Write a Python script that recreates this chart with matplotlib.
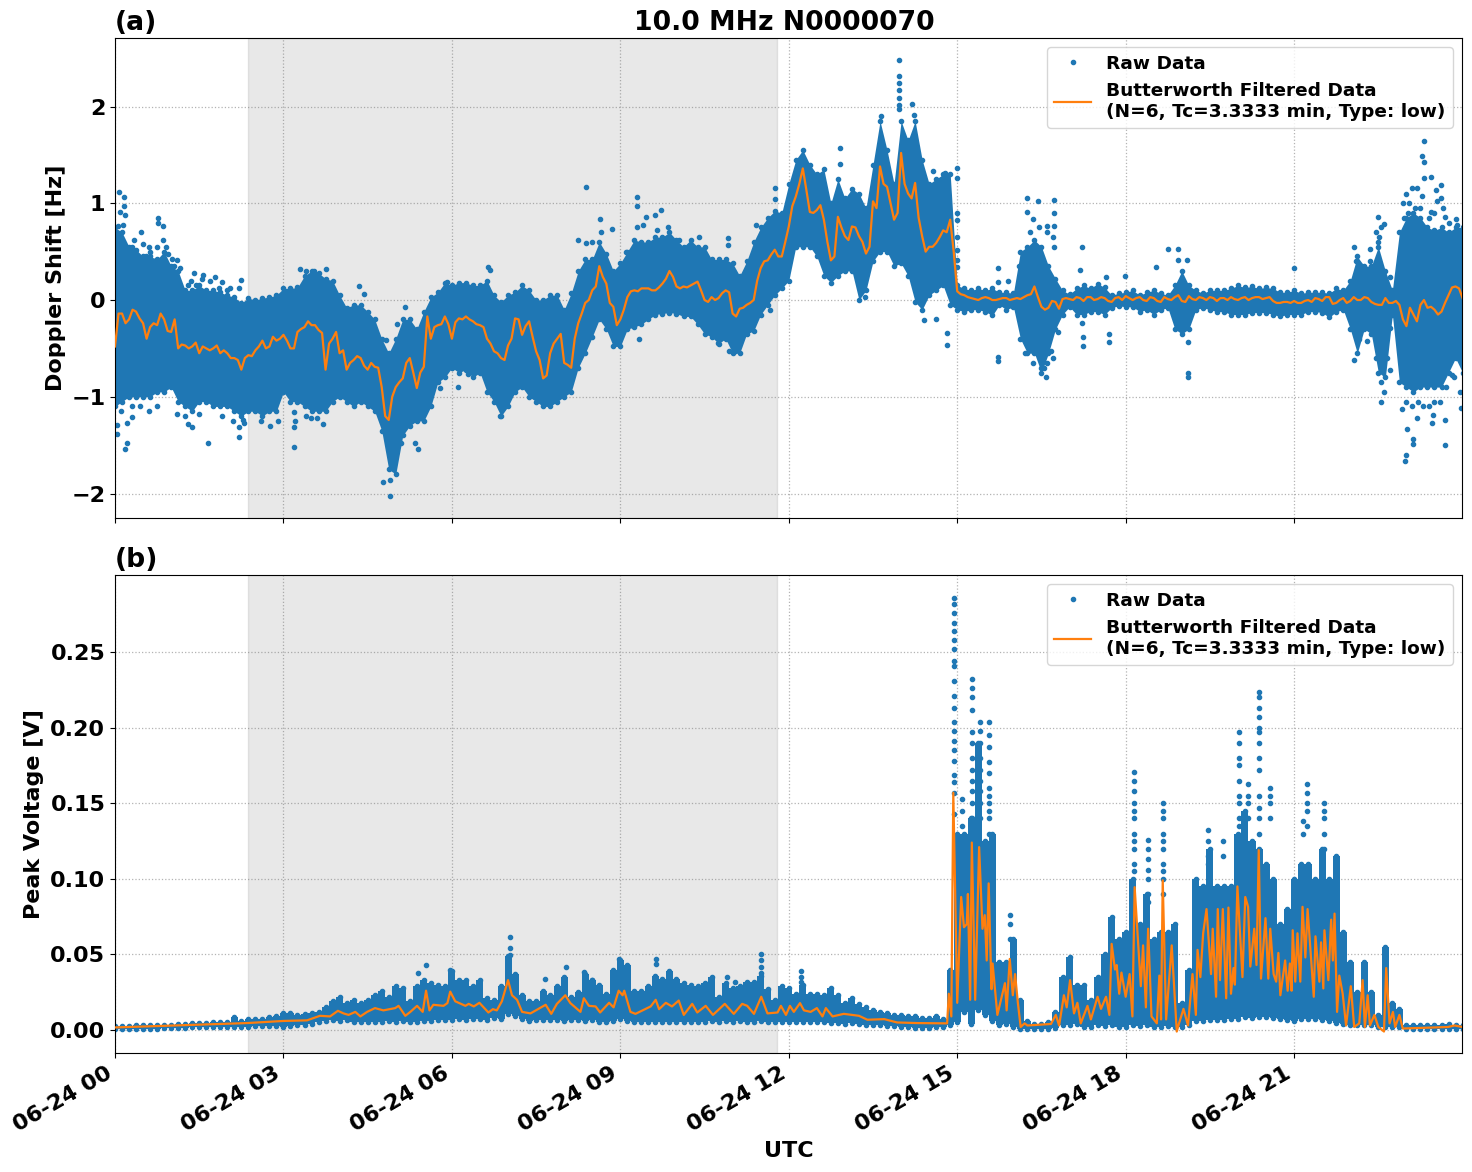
import datetime
import numpy as np
import matplotlib
matplotlib.use('Agg')
import matplotlib.pyplot as plt
import matplotlib.dates as mdates

# one row per hour, 7.5 min between columns
step_h = 0.125

doppler_hi = [
    .75, .7, .55, .52, .45, .45, .42, .5,
    .35, .3, .1, .1, .15, .1, .1, .08,
    .05, .03, -.03, .02, 0, .02, .03, .05,
    .12, .12, .13, .25, .3, .28, .22, .2,
    .05, -.08, -.05, -.05, -.12, -.2, -.4, -.55,
    -.4, -.2, -.2, -.3, -.12, .03, .08, .18,
    .15, .18, .18, .15, .15, .2, .05, -.02,
    .05, .08, .15, .1, 0, 0, .05, .05,
    -.1, .07, .3, .42, .42, .6, .48, .3,
    .38, .5, .62, .6, .6, .65, .65, .7,
    .62, .55, .62, .55, .55, .42, .42, .42,
    .38, .25, .4, .6, .75, .85, .92, .9,
    1.2, 1.45, 1.55, 1.4, 1.3, 1.35, 1.0, 1.25,
    1.05, 1.15, 1.1, .95, 1.4, 1.85, 1.55, 1.2,
    1.85, 1.65, 1.85, 1.45, 1.2, 1.25, 1.3, 1.3,
    .15, .12, .1, .12, .1, .12, .08, .08,
    .07, .5, .55, .62, .55, .35, .22, .1,
    .06, .12, .15, .12, .17, .13, .05, .07,
    .08, .1, .05, .08, .1, .07, .05, .15,
    .3, .15, .1, .07, .1, .1, .1, .12,
    .15, .13, .14, .12, .13, .12, .08, .08,
    .1, .07, .08, .08, .08, .07, .12, .1,
    .2, .45, .35, .35, .55, .3, .1, .7,
    .85, .9, .85, .75, .72, .75, .7, .75,
    .75]

doppler_lo = [
    -1.1, -1.05, -1, -1, -1, -1, -.95, -.95,
    -.9, -1.05, -1.1, -1.15, -1.05, -1.05, -1.1, -1.1,
    -1.1, -1.15, -1.2, -1.15, -1.15, -1.2, -1.15, -1.15,
    -.95, -1.05, -1.05, -1.1, -1.15, -1.15, -1.15, -1.05,
    -1, -1.05, -1.1, -1.05, -1.1, -1.15, -1.35, -1.75,
    -1.8, -1.4, -1.3, -1.25, -1.25, -1.1, -.85, -.8,
    -.7, -.75, -.72, -.8, -.75, -.95, -1.05, -1.2,
    -1.1, -.95, -.9, -1, -1.05, -1.1, -1.1, -1.05,
    -1, -.95, -.7, -.55, -.38, -.2, -.3, -.48,
    -.48, -.3, -.28, -.25, -.2, -.15, -.14, -.13,
    -.14, -.17, -.17, -.25, -.35, -.38, -.45, -.4,
    -.55, -.55, -.35, -.32, -.15, -.05, .05, .12,
    .2, .55, .55, .55, .45, .25, .18, .25,
    .3, .3, 0, .1, .4, .5, .5, .35,
    .38, .25, -.02, -.1, .05, .1, .15, -.05,
    -.1, -.12, -.1, -.1, -.12, -.16, -.05, -.1,
    -.07, -.4, -.55, -.55, -.75, -.55, -.3, -.15,
    -.07, -.15, -.15, -.12, -.12, -.15, -.08, -.06,
    -.07, -.07, -.12, -.1, -.15, -.1, -.08, -.3,
    -.35, -.3, -.1, -.08, -.1, -.12, -.12, -.15,
    -.15, -.15, -.13, -.13, -.13, -.15, -.17, -.15,
    -.15, -.15, -.12, -.12, -.13, -.18, -.12, -.1,
    -.3, -.55, -.3, -.35, -.75, -.8, -.15, -.85,
    -.9, -.95, -.9, -.9, -.9, -.9, -.75, -.6,
    -.75]

doppler_filt = [
    -.48, -.14, -.2, -.12, -.24, -.28, -.26, -.2,
    -.33, -.5, -.47, -.48, -.55, -.5, -.5, -.55,
    -.55, -.6, -.72, -.57, -.52, -.42, -.48, -.42,
    -.36, -.5, -.33, -.28, -.26, -.31, -.72, -.4,
    -.55, -.72, -.62, -.6, -.72, -.69, -.9, -1.24,
    -.9, -.81, -.6, -.91, -.69, -.4, -.26, -.17,
    -.4, -.19, -.17, -.22, -.26, -.4, -.53, -.6,
    -.47, -.19, -.36, -.22, -.53, -.81, -.55, -.4,
    -.65, -.7, -.24, -.03, .1, .35, .17, -.07,
    -.2, .03, .1, .12, .12, .1, .17, .3,
    .14, .14, .15, .19, 0, .03, .02, .1,
    -.14, -.09, -.05, 0, .33, .41, .52, .45,
    .76, 1.07, 1.36, .91, .93, .83, .41, .86,
    .66, .76, .66, .48, 1.02, 1.38, 1.17, .83,
    1.52, 1.1, 1.21, .66, .55, .59, .72, .83,
    .09, .05, .02, 0, .03, 0, .01, .02,
    .01, .01, .05, .14, -.07, -.08, -.02, .01,
    .01, .03, -.01, .03, .01, .02, -.02, .03,
    .04, 0, .03, -.01, .02, -.02, .01, .03,
    -.01, .04, 0, .02, .03, -.01, .02, .03,
    0, .03, .02, .03, .02, -.01, -.03, -.02,
    -.01, -.03, 0, .02, -.01, .03, -.03, .02,
    -.01, 0, .03, -.02, -.05, .02, -.03, -.05,
    -.27, -.15, -.05, -.08, -.1, -.12, .05, .14,
    .02]

# filtered trace halfway between the columns above
doppler_filt_mid = [
    -.14, -.24, -.1, -.19, -.4, -.24, -.14, -.32,
    -.2, -.46, -.5, -.44, -.48, -.52, -.47, -.52,
    -.6, -.62, -.6, -.58, -.48, -.5, -.38, -.4,
    -.42, -.5, -.3, -.22, -.26, -.34, -.45, -.33,
    -.52, -.65, -.58, -.68, -.65, -.7, -1.2, -1.0,
    -.85, -.65, -.75, -.75, -.17, -.28, -.25, -.25,
    -.23, -.2, -.2, -.25, -.28, -.45, -.55, -.62,
    -.4, -.2, -.27, -.38, -.62, -.78, -.45, -.35,
    -.67, -.4, -.14, 0, .14, .24, -.03, -.26,
    -.1, .09, .09, .12, .1, .13, .22, .24,
    .12, .13, .17, .1, -.02, 0, .07, .08,
    -.17, -.08, -.03, .2, .4, .47, .45, .6,
    .97, 1.2, 1.14, .9, .98, .6, .45, .75,
    .62, .75, .6, .55, .95, 1.2, 1.0, .9,
    1.2, 1.05, .85, .5, .55, .65, .7, .5,
    .06, .03, .01, .02, .02, 0, .02, 0,
    .02, .03, .06, .03, -.1, -.01, -.09, .02,
    0, .02, .03, 0, .03, -.01, .02, 0,
    .02, .02, 0, .03, -.01, .03, 0, .05,
    -.02, .01, .03, 0, .02, .02, 0, .01,
    .02, 0, .03, .01, .03, -.03, -.02, -.03,
    -.03, -.01, -.02, .01, .03, -.04, 0, -.03,
    .03, 0, .02, -.04, -.05, -.03, -.01, -.2,
    -.08, -.22, 0, -.07, -.15, -.03, .13, .12]

# isolated samples away from the dense band
doppler_out_t = [
    .08, .16, .09, .16, .18, .06, .15, .34, .46, .77, .77, .86, .86, .62, 1.01, 1.11,
    1.41, 1.57, 1.78, 1.91, 2.25, 2.04, 6.64, 6.67, 5.91, 4.34, 4.43, 5.17, 5.03, 4.83,
    .17, .21, .04, .04, .31, .22, 1.65, 2.2, 2.2, 2.28, 3.18, 3.18, 3.18, 2.76, 3.49, 3.7,
    4.89, 4.89, 4.78, 5.39, 5.35, 5.09, 6.86, 5.78, 6.1, 6.28, 7.16, 1.38, 1.3,
    8.38, 9.3, 9.3, 9.73, 9.46, 9.62, 8.63, 8.85, 8.24, 8.38, 10.92, 10.92, 11.75, 11.75, 11.41,
    11.66, 9.33, 10.74, 10.93, 11.05, 13.96, 13.96, 13.96, 13.96, 13.96, 13.96, 13.96,
    14.19, 14.23, 13.65, 12.91, 12.91, 14.41, 14.62, 14.81, 14.81, 13.35, 14.56, 14.79,
    15.73, 15.73, 15.73, 15.73, 15.9, 15, 15, 15, 15, 15, 15, 15, 15,
    16.24, 16.44, 16.73, 16.73, 16.24, 16.35, 16.6, 16.73, 16.73, 17.22, 18.75, 18.94, 18.94,
    19.09, 18.54, 17.65, 17.99, 17.18, 20.99, 19.11, 19.11, 16.58, 16.55, 16.67, 17.24, 17.24,
    17.23, 17.71, 17.71, 19.11, 16.8, 22.06, 22.36, 22.5, 22.6, 22.52, 22.07, 22.55, 22.6,
    22.71, 22.71, 22.71, 23.32, 23.27, 23.32, 23.32, 23.43, 23.62, 23.52, 23.1, 23, 23.19,
    23.27, 23.62, 22.94, 23.54, 23.03, 23.43, 23.68, 23.89, 22.97, 22.99, 23.11, 23.12,
    23.68, 23.68, 23.45, 23.01, 22.93, 23.97, 23.18, 23.47, 23.81]
doppler_out_v = [
    1.12, 1.06, .91, .97, .88, .76, .78, .62, .7, .85, .8, .77, .62, .5, .42, .41,
    .28, .26, .24, .19, .21, .12, .34, .31, .19, .14, .06, -.07, -.25, -.41,
    -1.54, -1.48, -1.38, -1.29, -1.21, -1.27, -1.48, -1.42, -1.31, -1.24, -1.52, -1.31, -1.16, -1.3, -1.22, -1.28,
    -2.03, -1.86, -1.88, -1.54, -1.48, -1.48, -1.2, -.91, -.9, -.76, -.89, -1.31, -1.28,
    1.17, 1.06, .97, .93, .86, .88, .84, .73, .62, .59, .64, .57, 1.16, 1.04, .78,
    -.1, -.4, -.44, -.53, -.53, 2.48, 2.32, 2.24, 2.17, 2.09, 2.02, 1.97,
    2.03, 1.91, 1.9, 1.57, 1.41, -.21, -.2, -.34, -.46, .03, 1.33, 1.31,
    .33, .19, -.59, -.63, .2, 1.36, 1.26, .9, .83, .65, .52, .41, .34,
    1.05, 1.02, 1.03, .9, .91, .84, .76, .77, .55, .55, .53, .53, .41,
    .41, .34, .24, .25, .31, .33, -.75, -.8, -.8, -.7, -.53, -.48, -.38,
    -.24, -.35, -.43, -.43, -.33, .55, .53, .86, .79, .65, -.62, -1.05, -.95,
    -.72, .24, -.29, 1.64, 1.49, 1.43, 1.26, 1.27, 1.19, 1.14, 1.16, 1.1, 1.16,
    1.08, 1.05, 1, 1.02, .9, .91, .86, .84, -1.66, -1.6, -1.49, -1.44,
    -1.5, -1.24, -1.27, -1.33, -1.13, -1.12, -1.22, -1.19, -.77]

# sparser samples just outside the band
doppler_fringe_t = [
    .3, .35, .5, .55, .6, .7, .75, .9, .95, 1.05, 1.15, 1.3, 1.35, 1.45, 1.55, 1.7, 1.85, 2, 2.2,
    .1, .3, .45, .6, .75, 1.1, 1.25, 1.5, 1.9, 2.1, 2.3, 2.6, 2.9, 3.2, 3.4, 3.6,
    3.3, 3.4, 3.55, 3.75, 8.5, 8.65, 9.1, 9.3, 9.4, 9.65, 9.85, 10.05, 10.4,
    16.1, 16.3, 16.45, 16.6, 16.7, 16.2, 16.35, 16.5, 16.6, 16.7,
    22.1, 22.2, 22.35, 22.45, 22.5, 22.55, 22.15, 22.3, 22.45, 22.55, 22.65,
    22.95, 23.05, 23.15, 23.25, 23.4, 23.5, 23.65, 23.75, 23.9,
    23, 23.1, 23.2, 23.3, 23.4, 23.5, 23.6, 23.7, 23.85, 23.95]
doppler_fringe_v = [
    .55, .5, .58, .45, .55, .4, .55, .55, .48, .35, .33, .15, .2, .15, .22, .2, .12, .1, .12,
    -1.15, -1.1, -1.1, -1.15, -1.1, -1.18, -1.2, -1.18, -1.2, -1.25, -1.27, -1.25, -1.25, -1.25, -1.2, -1.22,
    .32, .3, .3, .32, .6, .7, .5, .75, .78, .72, .75, .62, .65,
    .35, .7, .75, .7, .65, -.55, -.65, -.7, -.65, -.6,
    .4, .35, .4, .7, .6, .75, -.4, -.42, -.6, -.85, -.6,
    .85, 1.0, .95, .95, .85, .9, .95, .8, .78,
    -1.05, -1.1, -1.05, -1.1, -1.1, -1.05, -1.05, -.9, -.8, -.95]

voltage_hi = [
    .0025, .0025, .0025, .003, .003, .003, .0035, .0035,
    .0035, .004, .004, .0045, .0045, .0045, .005, .005,
    .005, .0085, .006, .007, .0075, .007, .0085, .009,
    .011, .011, .01, .0105, .011, .012, .015, .019,
    .022, .018, .02, .018, .02, .023, .026, .022,
    .029, .028, .019, .029, .033, .031, .03, .029,
    .039, .033, .033, .029, .033, .021, .02, .029,
    .049, .037, .023, .019, .019, .026, .023, .029,
    .035, .022, .025, .037, .033, .03, .024, .04,
    .046, .043, .026, .026, .029, .036, .034, .039,
    .034, .031, .03, .029, .031, .035, .022, .031,
    .028, .029, .032, .032, .036, .027, .02, .029,
    .028, .024, .03, .024, .024, .023, .028, .023,
    .018, .021, .017, .015, .013, .012, .011, .01,
    .01, .0095, .009, .008, .008, .009, .007, .04,
    .13, .13, .14, .19, .125, .13, .045, .045,
    .06, .02, .006, .004, .004, .005, .012, .035,
    .048, .03, .03, .02, .035, .05, .075, .06,
    .065, .1, .07, .09, .06, .065, .065, .07,
    .018, .04, .1, .095, .12, .095, .095, .095,
    .13, .145, .125, .12, .11, .1, .07, .08,
    .1, .11, .11, .1, .12, .1, .115, .065,
    .045, .025, .045, .025, .01, .055, .018, .014,
    .003, .0035, .0035, .0035, .0035, .0035, .004, .0035,
    .0035]

voltage_lo = [
    .0005, .0005, .0005, .0005, .0007, .001, .001, .0012,
    .0012, .0015, .0015, .0017, .0017, .002, .002, .002,
    .0021, .0021, .0022, .0023, .0024, .0025, .0027, .0025,
    .002, .0025, .003, .0035, .004, .005, .006, .0065,
    .006, .0065, .005, .0055, .0055, .005, .0055, .006,
    .0055, .006, .0055, .0055, .006, .006, .0065, .0065,
    .0065, .007, .0065, .007, .007, .0065, .008, .007,
    .0105, .009, .007, .006, .0065, .0065, .0065, .0065,
    .006, .0065, .0065, .006, .0065, .0055, .0055, .006,
    .007, .006, .0055, .0055, .005, .005, .0055, .0055,
    .005, .005, .0055, .005, .0055, .006, .0055, .006,
    .0055, .006, .0055, .0055, .006, .005, .005, .005,
    .0055, .0055, .005, .0055, .005, .0055, .0045, .0045,
    .004, .0045, .004, .0035, .0035, .003, .0025, .0025,
    .002, .002, .0015, .0015, .0015, .002, .002, .003,
    .005, .012, .004, .013, .01, .006, .003, .004,
    .002, .001, .001, .001, .001, .001, .0015, .003,
    .003, .004, .002, .002, .003, .0025, .003, .002,
    .002, .003, .0025, .003, .002, .002, .0025, .002,
    .002, .003, .006, .006, .0065, .0065, .0065, .007,
    .0075, .0085, .008, .0085, .0085, .008, .007, .0065,
    .006, .0075, .007, .007, .0065, .006, .0045, .004,
    .003, .003, .003, .003, .002, .002, .002, .002,
    .001, .001, .001, .001, .001, .001, .001, .001,
    .001]

# filtered trace, hour and volts at each turning point
voltage_filt_t = [
    0, 2.35, 3, 3.42, 3.65, 3.83, 3.97, 4.07, 4.16, 4.28, 4.37, 4.49, 4.63, 4.78, 4.99, 5.05,
    5.17, 5.26, 5.38, 5.48, 5.54, 5.6, 5.67, 5.85, 5.92, 5.97, 6.06, 6.24, 6.3, 6.39, 6.49,
    6.65, 6.73, 6.8, 6.89, 7, 7.07, 7.16, 7.25, 7.4, 7.67, 7.77, 7.87, 8.02, 8.11, 8.29, 8.35,
    8.44, 8.56, 8.64, 8.8, 8.88, 8.97, 9.04, 9.07, 9.18, 9.27, 9.54, 9.63, 9.69, 9.81, 9.92,
    10.04, 10.13, 10.28, 10.37, 10.52, 10.65, 10.86, 11.02, 11.17, 11.26, 11.38, 11.51, 11.62,
    11.8, 11.86, 11.95, 12.02, 12.09, 12.2, 12.27, 12.39, 12.5, 12.6, 12.66, 12.78, 12.98,
    13.13, 13.25, 13.4, 13.7, 13.93, 14.29, 14.82, 14.85, 14.895, 14.93, 15, 15.07, 15.12,
    15.17, 15.19, 15.23, 15.26, 15.32, 15.39, 15.45, 15.49, 15.525, 15.56, 15.61, 15.63,
    15.715, 15.85, 15.88, 15.935, 15.99, 16.03, 16.08, 16.13, 16.2, 16.25, 16.67, 16.755,
    16.815, 16.9, 16.95, 17.01, 17.08, 17.14, 17.2, 17.32, 17.38, 17.5, 17.56, 17.65, 17.71,
    17.75, 17.81, 17.84, 17.885, 17.925, 18, 18.07, 18.12, 18.16, 18.27, 18.31, 18.36, 18.4,
    18.46, 18.555, 18.6, 18.63, 18.66, 18.72, 18.82, 18.91, 18.95, 19.03, 19.11, 19.19, 19.25,
    19.28, 19.33, 19.38, 19.44, 19.52, 19.55, 19.61, 19.64, 19.68, 19.73, 19.79, 19.83, 19.875,
    19.92, 19.945, 19.99, 20.08, 20.13, 20.18, 20.22, 20.29, 20.33, 20.37, 20.41, 20.49, 20.54,
    20.575, 20.635, 20.68, 20.72, 20.755, 20.84, 20.885, 20.925, 20.955, 20.975, 21.02, 21.06,
    21.11, 21.15, 21.2, 21.24, 21.35, 21.38, 21.45, 21.48, 21.52, 21.54, 21.61, 21.66, 21.69,
    21.72, 21.765, 21.805, 21.865, 21.925, 22.01, 22.07, 22.16, 22.22, 22.26, 22.31, 22.35,
    22.43, 22.5, 22.6, 22.64, 22.7, 22.76, 22.8, 22.875, 22.935, 23.74, 23.855, 24]
voltage_filt_v = [
    .0017, .0046, .006, .0064, .0094, .009, .0127, .011, .01, .012, .009, .012, .0145, .013, .0145, .016,
    .0094, .012, .016, .012, .026, .013, .0167, .016, .0178, .0254, .019, .016, .0173, .0156, .018,
    .0116, .0138, .013, .019, .033, .023, .02, .012, .011, .0167, .0107, .0173, .023, .0178, .012, .021,
    .016, .0156, .0116, .018, .015, .026, .023, .026, .012, .0107, .0156, .02, .0138, .018, .0156,
    .0195, .01, .0173, .0116, .016, .01, .0173, .0107, .0173, .016, .0107, .022, .011,
    .0116, .016, .01, .016, .012, .0178, .013, .012, .0145, .009, .0145, .009, .0107,
    .01, .0094, .0068, .0072, .005, .0046, .0044, .024, .009, .157, .018, .088, .068,
    .07, .09, .02, .124, .02, .121, .067, .076, .046, .097, .027, .044,
    .01, .031, .013, .047, .023, .037, .018, .002, .0044, .003, .004, .01,
    .003, .023, .015, .033, .011, .018, .0044, .016, .007, .022, .014, .022, .01,
    .057, .04, .043, .024, .038, .022, .037, .009, .0945, .029, .056, .015, .067,
    .009, .0044, .036, .007, .099, .007, .056, -.001, .0044, .014, .003, .037, .01,
    .053, .035, .064, .08, .037, .067, .022, .08, .033, .08, .021, .081, .024,
    .041, .03, .095, .035, .088, .0815, .042, .067, .043, .119, .034, .074, .034,
    .067, .037, .032, .051, .023, .046, .026, .044, .026, .066, .032, .064,
    .032, .0815, .048, .08, .022, .062, .032, .058, .0275, .066, .033, .073, .046,
    .077, .012, .036, .024, .003, .029, .002, .0044, .033, .002, .023, .003,
    .01, .002, -.001, .041, .0044, .012, .002, .01, .001, .002, .003, .002]

# narrow spikes of separate samples above the band
spike_t = [14.943, 15.27, 15.41, 15.57, 15.09, 18.15, 18.4, 18.67, 15.94, 19.47, 19.73,
           20.02, 20.18, 20.38, 20.575, 21.23, 21.54, 21.15, 7.03, 9.63, 11.51, 12.21]
spike_v = [
    [.286, .282, .276, .269, .264, .258, .252, .244, .241, .231, .221, .213, .204, .198, .191, .185, .178, .169, .164, .157, .143],
    [.232, .226, .22, .212, .197, .19, .18, .172, .165, .158, .15, .14],
    [.204, .198, .19, .18, .172, .165, .158, .15, .14],
    [.204, .195, .187, .177, .17, .16, .155, .15, .145, .14, .13],
    [.153, .145, .135],
    [.171, .165, .158, .15, .145, .14, .13, .125, .12, .11, .105],
    [.126, .12, .113, .106, .1, .09, .085],
    [.15, .145, .14, .13, .125, .12, .11, .105, .1, .09],
    [.076, .07, .06],
    [.132, .125, .115, .11],
    [.125, .115],
    [.197, .19, .18, .175, .165, .155, .15, .14, .135],
    [.163, .155, .15, .14],
    [.2236, .22, .213, .207, .2, .197, .19, .18, .172, .155, .147, .14, .13],
    [.16, .155, .15, .14],
    [.163, .157, .15, .145, .135],
    [.15, .145, .14, .13, .12],
    [.138, .13],
    [.0616, .054, .0496],
    [.047, .044],
    [.05, .046, .042, .0375],
    [.039, .035, .032]]
voltage_out_t = [5.39, 5.54, 5.97, 7.66, 8.03, 8.36, 8.49, 8.97, 10.9, 11.04]
voltage_out_v = [.038, .043, .04, .034, .0414, .0386, .033, .047, .035, .032]

# night-time shading, hours
shade_start = 2.37
shade_end = 11.79

legend_filt = 'Butterworth Filtered Data\n(N=6, Tc=3.3333 min, Type: low)'

start = datetime.datetime(2023, 6, 24)


def to_dates(hours):
    return [start + datetime.timedelta(hours=float(h)) for h in hours]


def draw_panel(ax, t, hi, lo, extra_t, extra_v, filt_t, filt_v, step=None):
    ax.axvspan(to_dates([shade_start])[0], to_dates([shade_end])[0], color='gray', alpha=0.18, zorder=1)
    ax.fill_between(to_dates(t), lo, hi, step=step, color='C0', lw=0, zorder=2)
    raw_t = list(t) + list(t) + list(extra_t)
    raw_v = list(hi) + list(lo) + list(extra_v)
    ax.plot(to_dates(raw_t), raw_v, '.', color='C0', label='Raw Data', zorder=2)
    ax.plot(to_dates(filt_t), filt_v, color='C1', lw=1.6, label=legend_filt, zorder=3)
    ax.grid(True, ls=':', color='0.7', lw=0.9)
    ax.set_axisbelow(True)
    ax.set_xlim(start, start + datetime.timedelta(hours=23.99))
    ax.legend(loc='upper right', prop={'weight': 'bold', 'size': 13.3})
    ax.xaxis.set_major_locator(mdates.HourLocator(byhour=range(0, 24, 3)))
    ax.xaxis.set_major_formatter(mdates.DateFormatter('%m-%d %H'))


plt.rcParams['font.weight'] = 'bold'
plt.rcParams['axes.labelweight'] = 'bold'
plt.rcParams['axes.titleweight'] = 'bold'
plt.rcParams['font.size'] = 16

W, H = 1472, 1172
fig = plt.figure(figsize=(W / 100, H / 100), dpi=100)
ax0 = fig.add_axes([115 / W, (H - 518) / H, 1347 / W, 480 / H])
ax1 = fig.add_axes([115 / W, (H - 1053) / H, 1347 / W, 478 / H])

t = np.arange(len(doppler_hi)) * step_h
# the filtered series alternates column and half-column readings
t_filt = np.arange(len(doppler_filt) + len(doppler_filt_mid)) * step_h / 2
filt = [v for pair in zip(doppler_filt[:-1], doppler_filt_mid) for v in pair] + doppler_filt[-1:]
draw_panel(ax0, t, doppler_hi, doppler_lo, doppler_out_t + doppler_fringe_t, doppler_out_v + doppler_fringe_v,
           t_filt, filt)
ax0.set_ylim(-2.253, 2.708)
ax0.set_yticks([-2, -1, 0, 1, 2])
ax0.set_ylabel('Doppler Shift [Hz]')
ax0.set_title('(a)', loc='left', fontsize=19.2, pad=6)
ax0.set_title('10.0 MHz N0000070', fontsize=19.2, pad=6, x=0.497)
ax0.tick_params(labelbottom=False)

col_t = [s for s, vals in zip(spike_t, spike_v) for _ in vals]
col_v = [v for vals in spike_v for v in vals]
t = np.arange(len(voltage_hi)) * step_h
draw_panel(ax1, t, voltage_hi, voltage_lo, voltage_out_t + col_t, voltage_out_v + col_v,
           voltage_filt_t, voltage_filt_v, step='mid')
ax1.set_ylim(-0.0152, 0.301)
ax1.set_yticks([0, .05, .1, .15, .2, .25])
ax1.set_yticklabels(['0.00', '0.05', '0.10', '0.15', '0.20', '0.25'])
ax1.set_ylabel('Peak Voltage [V]')
ax1.set_xlabel('UTC')
ax1.set_title('(b)', loc='left', fontsize=19.2, pad=6)
plt.setp(ax1.get_xticklabels(), rotation=30, ha='right')

fig.savefig('out.png', dpi=100)
